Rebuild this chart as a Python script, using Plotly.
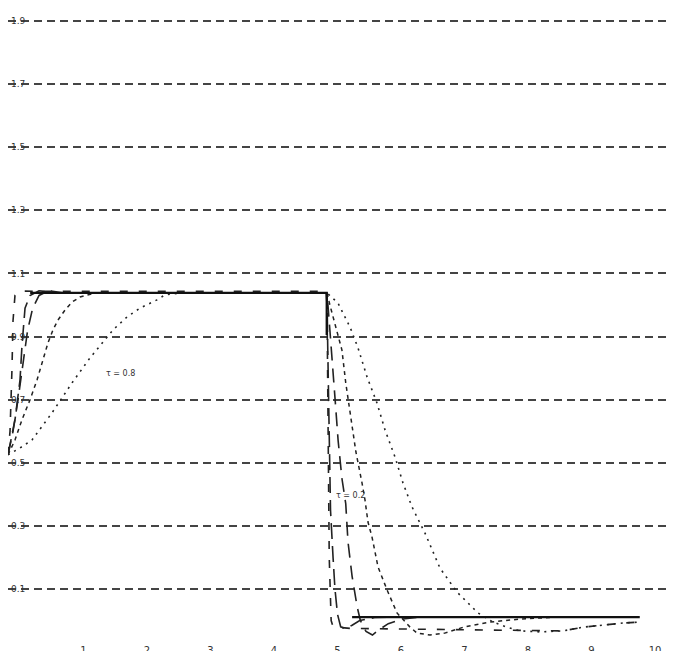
import plotly.graph_objects as go

# ---- data ----
x_tick_vals = [1, 2, 3, 4, 5, 6, 7, 8, 9, 10]
x_tick_text = ["1", "2", "3", "4", "5", "6", "7", "8", "9", "10"]
y_tick_vals = [0.1, 0.3, 0.5, 0.7, 0.9, 1.1, 1.3, 1.5, 1.7, 1.9]
y_tick_text = ["0.1", "0.3", "0.5", "0.7", "0.9", "1.1", "1.3", "1.5", "1.7", "1.9"]

# ideal pulse (solid)
ideal_t = [0.16, 4.83, 4.83, None, 5.23, 9.76]
ideal_v = [1.038, 1.038, 0.905, None, 0.011, 0.011]

# fastest response (long dash)
fast_t = [-0.189, -0.157, -0.126, -0.11, -0.079, 0.0, 0.5, 2.0, 4.0, 4.82,
          4.835, 4.85, 4.87, 4.90, 4.93, 5.2, 6.0, 7.0, 7.87, 8.55, 8.87, 9.18, 9.5, 9.76]
fast_v = [0.525, 0.60, 0.80, 0.95, 1.03, 1.044, 1.043, 1.043, 1.044, 1.043,
          1.0, 0.6, 0.2, 0.0, -0.02, -0.025, -0.027, -0.030, -0.033, -0.033, -0.021, -0.014, -0.008, -0.005]

# second response (dash)
second_t = [-0.189, -0.079, 0.0, 0.031, 0.079, 0.157, 0.30, 0.60, 4.82,
            4.835, 4.845, 4.86, 4.87, 4.89, 4.93, 4.96, 5.0, 5.05, 5.13, 5.23, 5.35, 5.6, 6.0]
second_v = [0.525, 0.636, 0.762, 0.87, 0.99, 1.03, 1.045, 1.038, 1.038,
            1.038, 0.88, 0.70, 0.50, 0.35, 0.20, 0.10, 0.02, -0.02, -0.025, -0.015, 0.0, 0.01, 0.011]

# third response (dash)
third_t = [-0.189, -0.11, -0.031, 0.05, 0.12, 0.20, 0.30, 0.45, 0.7, 4.82,
           4.835, 4.88, 4.93, 4.97, 5.01, 5.07, 5.13, 5.165, 5.2, 5.23, 5.31, 5.36, 5.45, 5.55, 5.65, 5.8, 6.03, 6.3]
third_v = [0.525, 0.60, 0.70, 0.82, 0.92, 0.99, 1.03, 1.045, 1.038, 1.038,
           1.038, 0.92, 0.80, 0.68, 0.57, 0.45, 0.37, 0.25, 0.19, 0.14, 0.043, 0.0, -0.035, -0.046, -0.03, -0.01, 0.005, 0.011]

# medium response (short dash / dots)
medium_t = [-0.189, -0.079, 0.031, 0.157, 0.268, 0.362, 0.441, 0.520, 0.598, 0.709, 0.819, 0.945, 1.181, 4.82,
            4.835, 4.88, 4.95, 5.07, 5.13, 5.21, 5.29, 5.386, 5.433, 5.48, 5.543, 5.638, 5.78, 5.937,
            6.142, 6.252, 6.457, 6.69, 7.0, 7.4, 7.9, 8.5]
medium_v = [0.525, 0.572, 0.636, 0.699, 0.762, 0.826, 0.880, 0.921, 0.952, 0.984, 1.009, 1.025, 1.038, 1.038,
            1.038, 1.0, 0.95, 0.857, 0.753, 0.642, 0.534, 0.436, 0.382, 0.312, 0.265, 0.170, 0.097, 0.024,
            -0.021, -0.040, -0.046, -0.040, -0.020, -0.005, 0.005, 0.011]

# slow response (dotted)
slow_t = [-0.189, 0.0, 0.189, 0.504, 0.819, 1.102, 1.465, 1.685, 1.890, 2.157, 2.283, 2.52, 4.82,
          4.835, 5.008, 5.197, 5.323, 5.465, 5.622, 5.748, 5.906, 6.031, 6.173, 6.378, 6.614, 6.882,
          7.213, 7.449, 7.669, 7.874, 8.189, 8.55, 8.87, 9.18, 9.5, 9.76]
slow_v = [0.525, 0.547, 0.572, 0.658, 0.753, 0.832, 0.921, 0.962, 0.990, 1.016, 1.032, 1.038, 1.038,
          1.038, 1.006, 0.930, 0.864, 0.772, 0.689, 0.604, 0.518, 0.436, 0.360, 0.277, 0.166, 0.090,
          0.024, -0.005, -0.021, -0.033, -0.036, -0.033, -0.021, -0.014, -0.008, -0.005]

fig = go.Figure()

def add(t, v, dash, width, color):
    fig.add_trace(go.Scatter(x=t, y=v, mode="lines", showlegend=False, hoverinfo="skip",
                             line=dict(color=color, width=width, dash=dash)))

add(slow_t, slow_v, "2px,5px", 1.6, "#222")
add(medium_t, medium_v, "4px,4px", 1.5, "#222")
add(third_t, third_v, "14px,8px", 1.6, "#222")
add(second_t, second_v, "16px,7px", 1.6, "#222")
add(fast_t, fast_v, "8px,11px", 1.6, "#222")
add(ideal_t, ideal_v, "solid", 2.2, "#111")

fig.add_annotation(x=1.575, y=0.784, text="τ = 0.8", showarrow=False,
                   font=dict(family="DejaVu Sans", size=8, color="#333"))
fig.add_annotation(x=5.2, y=0.395, text="τ = 0.2", showarrow=False,
                   font=dict(family="DejaVu Sans", size=8, color="#333"))

fig.update_xaxes(range=[-0.189, 10.315], tickvals=x_tick_vals, ticktext=x_tick_text,
                 showgrid=False, zeroline=False, showline=False, ticks="",
                 ticklabelstandoff=3,
                 tickfont=dict(family="DejaVu Sans", size=10, color="#333"))
fig.update_yaxes(range=[-0.0618, 1.941], tickvals=y_tick_vals, ticktext=y_tick_text,
                 showgrid=True, gridcolor="#444", gridwidth=2, griddash="8px,5px",
                 zeroline=False, showline=False, ticks="",
                 ticklabelposition="inside",
                 tickfont=dict(family="DejaVu Sans", size=9, color="#333"))

fig.update_layout(width=675, height=651, margin=dict(l=0, r=8, t=0, b=19),
                  paper_bgcolor="white", plot_bgcolor="white")

fig.write_html("out.html", post_script="document.body.style.overflow='hidden';")
